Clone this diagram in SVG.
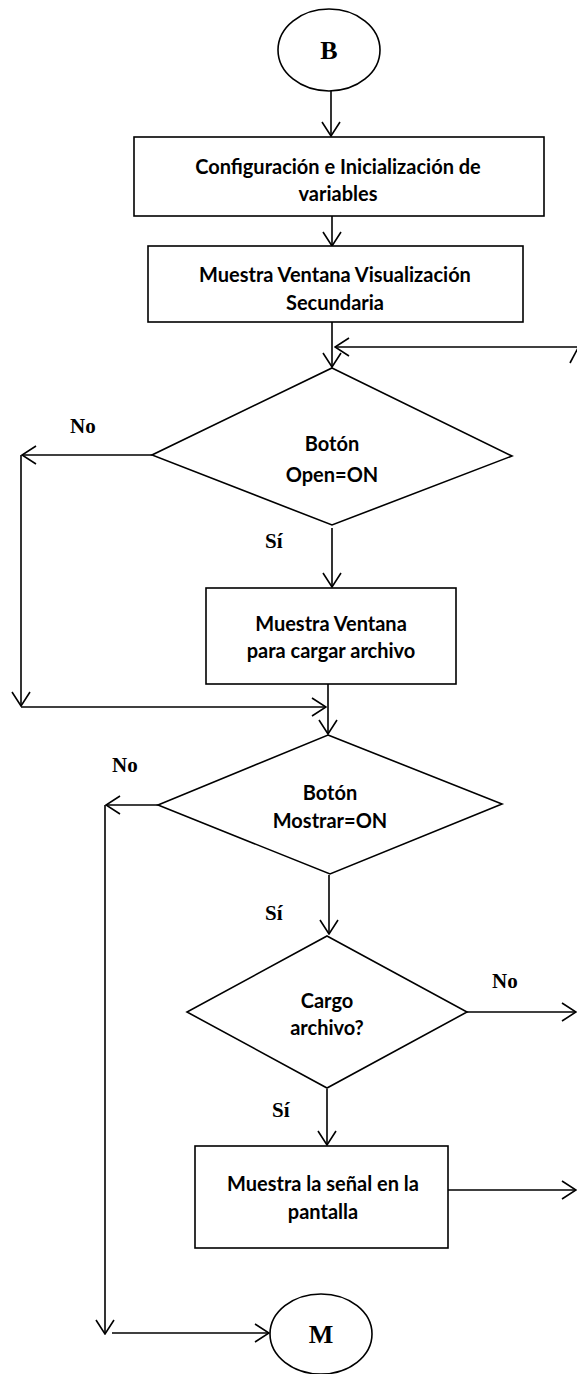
<svg xmlns="http://www.w3.org/2000/svg" width="577" height="1374" viewBox="0 0 577 1374">
  <style>
    .shape { fill: #fff; stroke: #000; stroke-width: 1.6; }
    .conn { fill: none; stroke: #000; stroke-width: 1.6; }
    .body { font-family: Lato, "Open Sans", "Liberation Sans", sans-serif; font-weight: bold; font-size: 20px; fill: #000; text-anchor: middle; }
    .lbl { font-family: "Liberation Serif", "Times New Roman", serif; font-weight: bold; font-size: 21px; fill: #000; }
    .term { font-family: "Liberation Serif", "Times New Roman", serif; font-weight: bold; font-size: 26px; fill: #000; text-anchor: middle; }
  </style>
  <defs>
    <marker id="arr" viewBox="0 0 16 20" refX="15" refY="10" markerWidth="16" markerHeight="20" markerUnits="userSpaceOnUse" orient="auto">
      <path d="M1,1 L15,10 L1,19" fill="none" stroke="#000" stroke-width="1.6"/>
    </marker>
  </defs>
  <rect width="577" height="1374" fill="#fff"/>

  <!-- connectors -->
  <g id="connectors">
    <path class="conn" d="M331,91 V136" marker-end="url(#arr)"/>
    <path class="conn" d="M332,216 V246" marker-end="url(#arr)"/>
    <path class="conn" d="M332,322 V367" marker-end="url(#arr)"/>
    <path class="conn" d="M577,347 H335" marker-end="url(#arr)"/>
    <path class="conn" d="M570,363 L578,348"/>
    <path class="conn" d="M152,455 H22" marker-end="url(#arr)"/>
    <path class="conn" d="M21,455 V706" marker-end="url(#arr)"/>
    <path class="conn" d="M21,707 H326" marker-end="url(#arr)"/>
    <path class="conn" d="M332,528 V587" marker-end="url(#arr)"/>
    <path class="conn" d="M328,684 V734" marker-end="url(#arr)"/>
    <path class="conn" d="M158,805 H106" marker-end="url(#arr)"/>
    <path class="conn" d="M105,805 V1334" marker-end="url(#arr)"/>
    <path class="conn" d="M112,1333 H269" marker-end="url(#arr)"/>
    <path class="conn" d="M329,875 V934" marker-end="url(#arr)"/>
    <path class="conn" d="M467,1012 H576" marker-end="url(#arr)"/>
    <path class="conn" d="M327,1089 V1145" marker-end="url(#arr)"/>
    <path class="conn" d="M448,1190 H576" marker-end="url(#arr)"/>
  </g>

  <!-- start terminal -->
  <g id="start-b">
    <ellipse class="shape" cx="329" cy="50" rx="51" ry="41"/>
    <text class="term" x="329" y="59">B</text>
  </g>

  <g id="config">
    <rect class="shape" x="134" y="137" width="410" height="79"/>
    <text class="body" x="338" y="174">Configuración e Inicialización de</text>
    <text class="body" x="338" y="201">variables</text>
  </g>

  <g id="ventana-secundaria">
    <rect class="shape" x="148" y="246" width="375" height="76"/>
    <text class="body" x="335" y="282">Muestra Ventana Visualización</text>
    <text class="body" x="335" y="310">Secundaria</text>
  </g>

  <g id="open-decision">
    <polygon class="shape" points="332,368 512,456 332,525 152,455"/>
    <text class="body" x="332" y="451">Botón</text>
    <text class="body" x="332" y="482">Open=ON</text>
    <text class="lbl" x="70" y="433">No</text>
    <text class="lbl" x="265" y="548">Sí</text>
  </g>

  <g id="cargar-archivo">
    <rect class="shape" x="206" y="588" width="250" height="96"/>
    <text class="body" x="331" y="631">Muestra Ventana</text>
    <text class="body" x="331" y="658">para cargar archivo</text>
  </g>

  <g id="mostrar-decision">
    <polygon class="shape" points="328,735 502,804 330,874 158,805"/>
    <text class="body" x="330" y="800">Botón</text>
    <text class="body" x="330" y="828">Mostrar=ON</text>
    <text class="lbl" x="112" y="772">No</text>
    <text class="lbl" x="265" y="920">Sí</text>
  </g>

  <g id="cargo-decision">
    <polygon class="shape" points="327,936 467,1012 327,1088 187,1012"/>
    <text class="body" x="327" y="1008">Cargo</text>
    <text class="body" x="327" y="1035">archivo?</text>
    <text class="lbl" x="492" y="988">No</text>
    <text class="lbl" x="272" y="1117">Sí</text>
  </g>

  <g id="muestra-senal">
    <rect class="shape" x="195" y="1146" width="253" height="102"/>
    <text class="body" x="323" y="1191">Muestra la señal en la</text>
    <text class="body" x="323" y="1219">pantalla</text>
  </g>

  <!-- end terminal -->
  <g id="end-m">
    <ellipse class="shape" cx="321" cy="1334" rx="51" ry="40"/>
    <text class="term" x="321" y="1343">M</text>
  </g>
</svg>
